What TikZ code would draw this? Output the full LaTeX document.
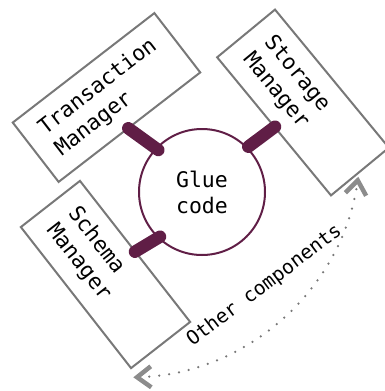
\documentclass[tikz,border=0pt]{standalone}
\usepackage{fontspec}
\setmonofont{DejaVu Sans Mono}
\usetikzlibrary{arrows.meta}
\definecolor{plum}{RGB}{96,30,70}
\definecolor{boxgray}{RGB}{120,120,120}
\definecolor{arrgray}{RGB}{140,140,140}
\begin{document}
\begin{tikzpicture}[x=1pt,y=-1pt,
  comp/.style={draw=boxgray, line width=2pt, rectangle, minimum height=75pt,
    inner xsep=18pt, text width=143pt, align=left,
    font=\ttfamily\fontsize{21.5}{27}\selectfont},
  gluenode/.style={circle, draw=plum, line width=2pt, minimum size=126pt, inner sep=0pt,
    align=center, font=\ttfamily\fontsize{21.5}{26}\selectfont},
  plug/.style={draw=plum, line width=12.5pt, line cap=round},
  others/.style={draw=boxgray, line width=2.5pt, dash pattern=on 0pt off 10pt, line cap=round,
    {Straight Barb[length=14pt, width=21pt, line width=4.5pt, color=arrgray]}-{Straight Barb[length=14pt, width=21pt, line width=4.5pt, color=arrgray]}},
  otherlbl/.style={font=\ttfamily\fontsize{19.5}{23}\selectfont, inner sep=0pt}
]
\useasboundingbox (0,0) rectangle (384,391);

% components
\node[comp, rotate=37.7] (tm) at (106.5,97.5) {Transaction\\Manager};
\node[comp, rotate=-50.5] (sm) at (303,102.5) {Storage\\Manager};
\node[comp, rotate=-52] (scm) at (105.5,274.5) {Schema\\Manager};

% glue
\node[gluenode] (glue) at (202,192) {Glue\\code};

% plugs
\coordinate (tmA) at (128.3,128.3);
\coordinate (tmB) at (158.3,150);
\coordinate (smA) at (275,126.7);
\coordinate (smB) at (248.3,146.7);
\coordinate (scA) at (135,251.7);
\coordinate (scB) at (160,236.7);
\draw[plug] (tmA) -- (tmB);
\draw[plug] (smA) -- (smB);
\draw[plug] (scA) -- (scB);

% other components
\coordinate (ocL) at (133.3,377.3);
\coordinate (ocR) at (358.3,176.7);
\draw[others] (ocL) .. controls (247.1,374.2) and (341.9,289.3) .. (ocR);
\node[otherlbl, rotate=36.9] (oclbl) at (264.5,285.8) {Other components};
\end{tikzpicture}
\end{document}
